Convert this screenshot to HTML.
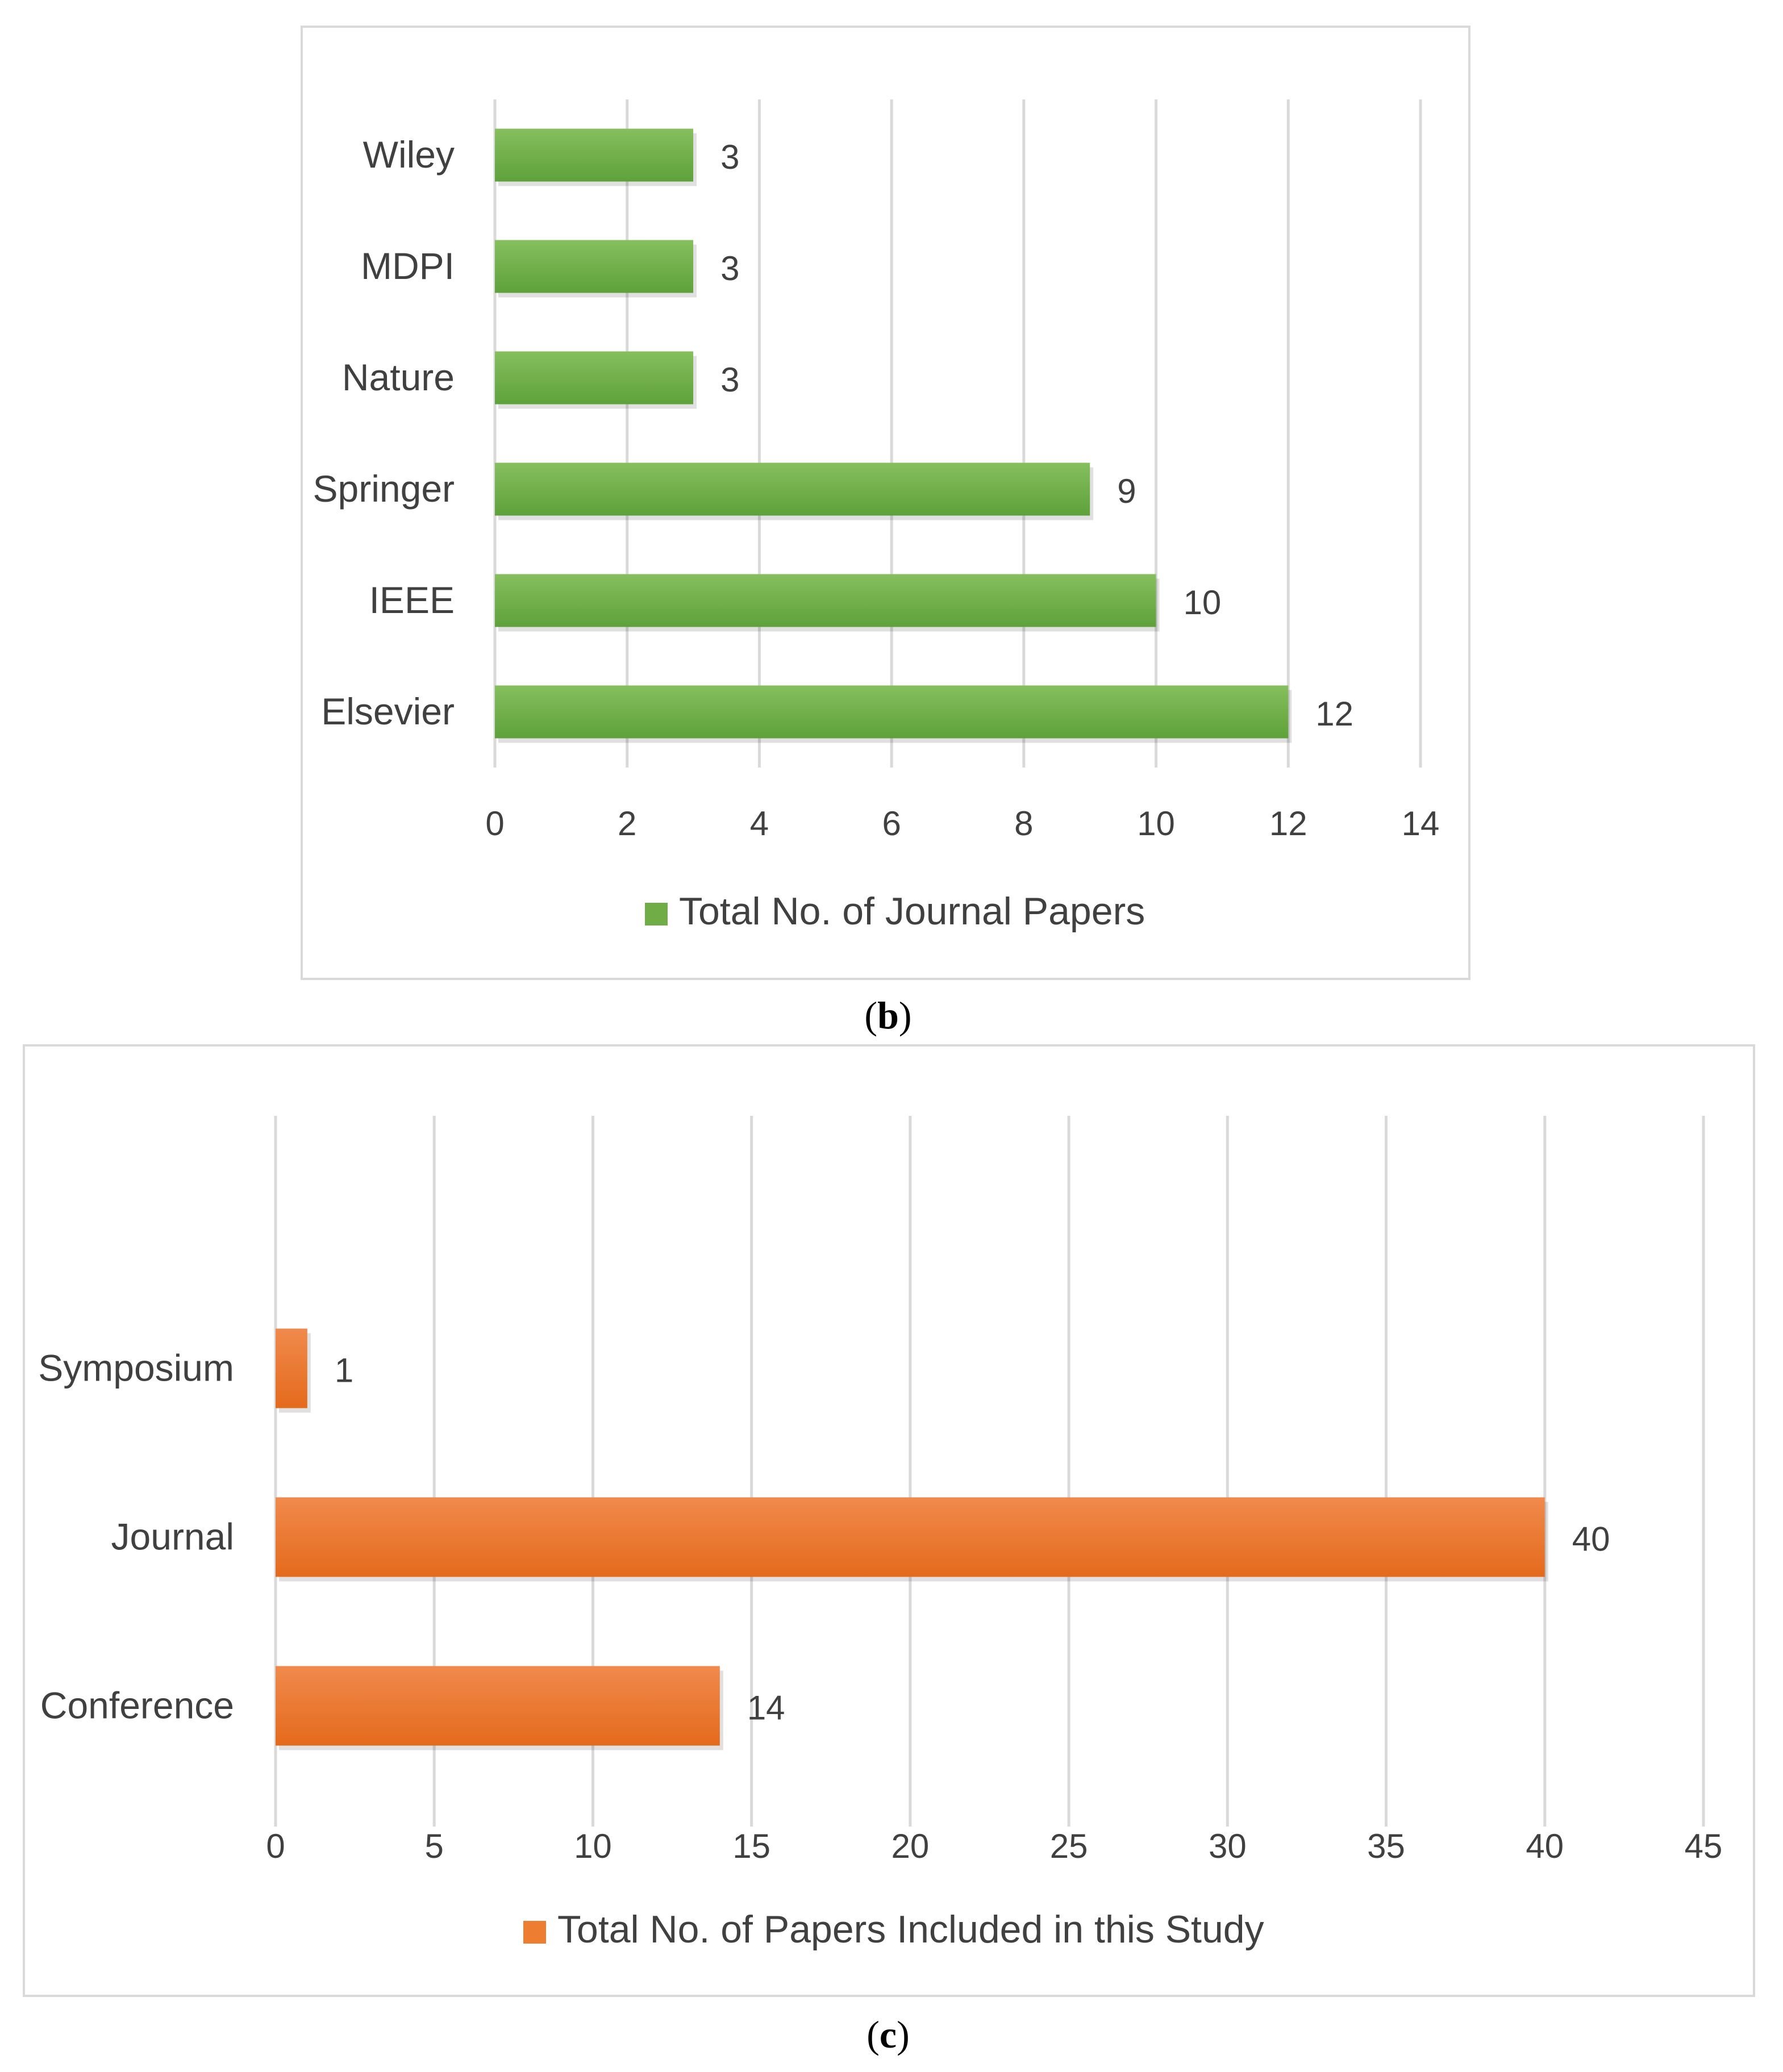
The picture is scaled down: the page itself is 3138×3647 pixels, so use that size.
<!DOCTYPE html>
<html><head><meta charset="utf-8"><style>
html,body{margin:0;padding:0;background:#fff;}
svg{display:block;}
text{font-family:"Liberation Sans","DejaVu Sans",sans-serif;fill:#404040;}
</style></head><body>
<svg id="svg" width="3138" height="3647" viewBox="0 0 3138 3647" xmlns="http://www.w3.org/2000/svg">
<defs>
<linearGradient id="gg" x1="0" y1="0" x2="0" y2="1"><stop offset="0" stop-color="#86bf5e"/><stop offset="1" stop-color="#5ea13a"/></linearGradient>
<linearGradient id="go" x1="0" y1="0" x2="0" y2="1"><stop offset="0" stop-color="#f08a4c"/><stop offset="1" stop-color="#e46a1c"/></linearGradient>
</defs>
<rect x="531" y="47" width="2055" height="1676" fill="#fff" stroke="#d9d9d9" stroke-width="4"/>
<rect x="42" y="1840" width="3045" height="1673" fill="#fff" stroke="#d9d9d9" stroke-width="4"/>
<g id="b"></g><g id="c"></g>
<text x="1563" y="1810" text-anchor="middle" font-size="68" style="font-family:'Liberation Serif',serif;fill:#000">(<tspan font-weight="bold">b</tspan>)</text>
<text x="1563" y="3604" text-anchor="middle" font-size="68" style="font-family:'Liberation Serif',serif;fill:#000">(<tspan font-weight="bold">c</tspan>)</text>
</svg>
<script>
const catsB=["Wiley","MDPI","Nature","Springer","IEEE","Elsevier"];
const valsB=[3,3,3,9,10,12];
const ticksB=[0,2,4,6,8,10,12,14];
const catsC=["Symposium","Journal","Conference"];
const valsC=[1,40,14];
const ticksC=[0,5,10,15,20,25,30,35,40,45];
const NS="http://www.w3.org/2000/svg";
function mk(p,t,a,txt){const e=document.createElementNS(NS,t);for(const k in a)e.setAttribute(k,a[k]);if(txt!==undefined)e.textContent=txt;p.appendChild(e);return e;}
function draw(g,cats,vals,ticks,o){
 const max=ticks[ticks.length-1];
 const x=v=>o.x0+(o.x1-o.x0)*v/max;
 const y=i=>o.yTop+o.step*(i+0.5);
 ticks.forEach(t=>{
  const l=mk(g,"line",{x1:x(t),x2:x(t),y1:o.gy0,y2:o.gy1,stroke:"#d9d9d9","stroke-width":5});
  
  
  const tx=mk(g,"text",{x:x(t),y:o.tickY,"text-anchor":"middle","font-size":60},String(t));
  
  
 });
 cats.forEach((c,i)=>{
  const cy=y(i);
  const sh=mk(g,"rect",{x:x(0)+6,y:cy-o.bh/2+8,width:x(vals[i])-x(0),height:o.bh,fill:"#000",opacity:0.12});
  
  
  const b=mk(g,"rect",{x:x(0),y:cy-o.bh/2,width:x(vals[i])-x(0),height:o.bh,fill:o.fill});
  
  
  const cl=mk(g,"text",{x:o.labX,y:cy+22,"text-anchor":"end","font-size":66},c);
  
  
  const vl=mk(g,"text",{x:x(vals[i])+48,y:cy+24,"font-size":60},String(vals[i]));
  
  
 });
 const sq=mk(g,"rect",{x:o.legX,y:o.legY-38,width:40,height:40,fill:o.solid});
 
 
 const lt=mk(g,"text",{x:o.legX+60,y:o.legY,"font-size":68},o.legend);
 
 
}
draw(document.getElementById("b"),catsB,valsB,ticksB,{x0:871,x1:2500,yTop:175,step:196,bh:93,gy0:175,gy1:1351,tickY:1470,labX:800,fill:"url(#gg)",solid:"#70ad47",legX:1135,legY:1627,legend:"Total No. of Journal Papers"});
draw(document.getElementById("c"),catsC,valsC,ticksC,{x0:485,x1:2998,yTop:2260,step:297,bh:140,gy0:1964,gy1:3215,tickY:3270,labX:412,fill:"url(#go)",solid:"#ed7d31",legX:921,legY:3419,legend:"Total No. of Papers Included in this Study"});
</script>
</body></html>
